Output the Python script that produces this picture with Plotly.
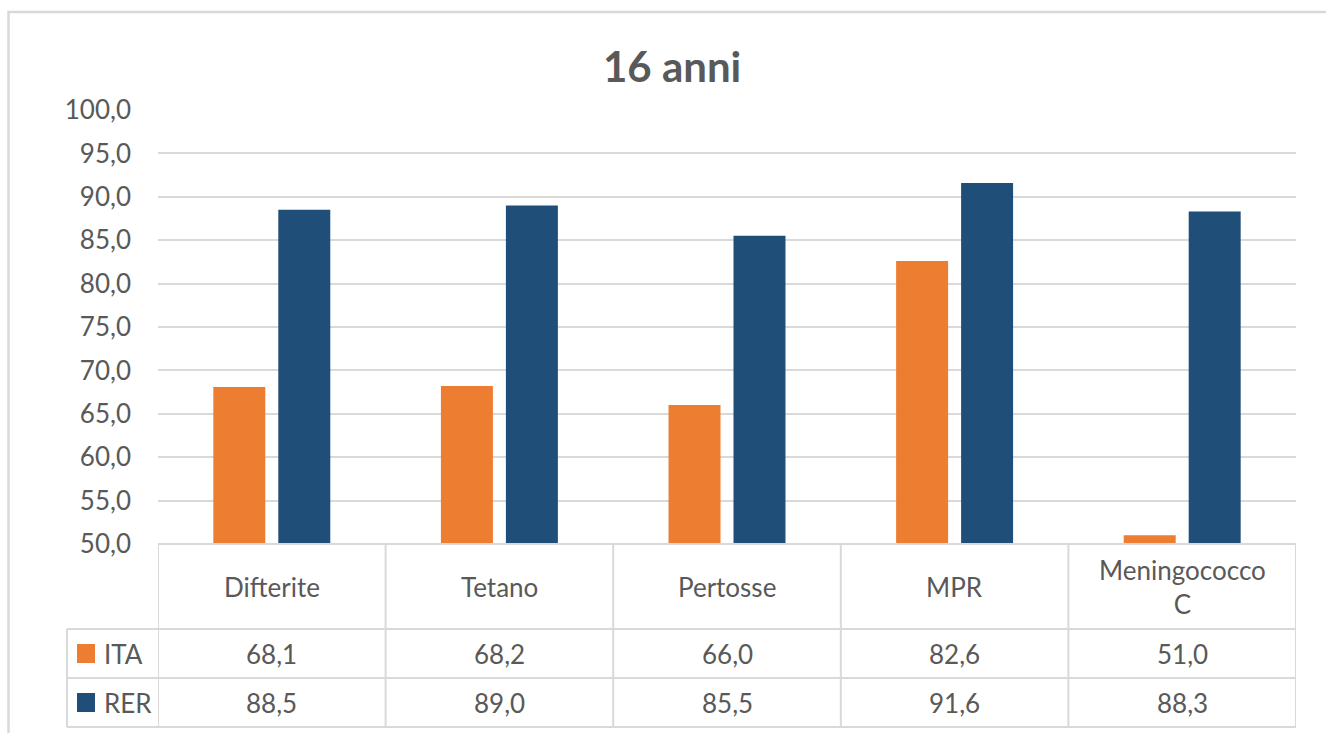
import plotly.graph_objects as go

# ---- data ----
categories = ["Difterite", "Tetano", "Pertosse", "MPR", "Meningococco C"]
category_labels = ["Difterite", "Tetano", "Pertosse", "MPR", "Meningococco<br>C"]
series_names = ["ITA", "RER"]
ita_values = [68.1, 68.2, 66.0, 82.6, 51.0]
rer_values = [88.5, 89.0, 85.5, 91.6, 88.3]
title_text = "16 anni"

# ---- styling ----
W, H = 1326, 733
PL, PR, PT, PB = 158, 1296, 110, 544   # plot area in pixels
ORANGE = "#ED7D31"
BLUE = "#1F4E79"
GRID = "#D9D9D9"
TXT = "#595959"
FONT = "Lato"

def xp(px):
    return (px - PL) / (PR - PL)

def yp(py):
    return (PB - py) / (PB - PT)

fig = go.Figure()
fig.add_trace(go.Bar(x=categories, y=ita_values, name=series_names[0],
                     marker=dict(color=ORANGE, line=dict(width=0)), base=None))
fig.add_trace(go.Bar(x=categories, y=rer_values, name=series_names[1],
                     marker=dict(color=BLUE, line=dict(width=0))))

shapes = []
line = dict(color=GRID, width=2)
# outer chart border
shapes.append(dict(type="rect", xref="paper", yref="paper",
                   x0=xp(8.5), x1=xp(1345), y0=yp(745), y1=yp(12),
                   line=dict(color=GRID, width=2.5), fillcolor="rgba(0,0,0,0)", layer="below"))
# table horizontal lines
ROW_TOP, ROW1, ROW2, ROW_BOT = 544, 629, 678, 727
LEG_L = 67
shapes.append(dict(type="line", xref="paper", yref="paper", x0=xp(PL), x1=xp(PR), y0=yp(ROW_TOP), y1=yp(ROW_TOP), line=line))
for ry in (ROW1, ROW2, ROW_BOT):
    shapes.append(dict(type="line", xref="paper", yref="paper", x0=xp(LEG_L), x1=xp(PR), y0=yp(ry), y1=yp(ry), line=line))
# vertical lines at category boundaries
for i in range(len(categories) + 1):
    shapes.append(dict(type="line", xref="x", yref="paper", x0=i - 0.5, x1=i - 0.5,
                       y0=yp(ROW_TOP), y1=yp(ROW_BOT), line=line))
shapes.append(dict(type="line", xref="paper", yref="paper", x0=xp(LEG_L), x1=xp(LEG_L),
                   y0=yp(ROW1), y1=yp(ROW_BOT), line=line))
# legend keys
row_centers = [(ROW1 + ROW2) / 2, (ROW2 + ROW_BOT) / 2]
for color, cy in zip([ORANGE, BLUE], row_centers):
    shapes.append(dict(type="rect", xref="paper", yref="paper",
                       x0=xp(77), x1=xp(95), y0=yp(cy + 9.5), y1=yp(cy - 9.5),
                       fillcolor=color, line=dict(width=0)))

annotations = []
# title
annotations.append(dict(text=f"<b>{title_text}</b>", xref="paper", yref="paper",
                        x=xp(672), y=yp(66), showarrow=False, xanchor="center", yanchor="middle",
                        font=dict(family=FONT, size=42, color=TXT)))
# header labels
for cat, lab in zip(categories, category_labels):
    annotations.append(dict(text=lab, xref="x", yref="paper", x=cat, y=yp(587),
                            showarrow=False, xanchor="center", yanchor="middle",
                            font=dict(family=FONT, size=26, color=TXT)))
# series rows
for name, vals, cy in zip(series_names, [ita_values, rer_values], row_centers):
    annotations.append(dict(text=name, xref="paper", yref="paper", x=xp(102), y=yp(cy),
                            showarrow=False, xanchor="left", yanchor="middle",
                            font=dict(family=FONT, size=26, color=TXT)))
    for cat, v in zip(categories, vals):
        annotations.append(dict(text=f"{v:.1f}".replace(".", ","), xref="x", yref="paper",
                                x=cat, y=yp(cy), showarrow=False, xanchor="center", yanchor="middle",
                                font=dict(family=FONT, size=26, color=TXT)))

fig.update_layout(
    width=W, height=H, autosize=False,
    margin=dict(l=PL, r=W - PR, t=PT, b=H - PB, pad=0),
    paper_bgcolor="white", plot_bgcolor="white",
    showlegend=False,
    barmode="group", bargap=0.429, bargroupgap=0.2,
    separators=",.",
    font=dict(family=FONT, size=26, color=TXT),
    xaxis=dict(type="category", range=[-0.5, 4.5], showticklabels=False,
               showgrid=False, zeroline=False, showline=False, ticks=""),
    yaxis=dict(range=[50, 100], dtick=5, tick0=50, tickformat=".1f",
               showgrid=True, gridcolor=GRID, gridwidth=2, zeroline=False,
               showline=False, ticks="", ticklabelstandoff=26,
               tickfont=dict(family=FONT, size=26, color=TXT)),
    shapes=shapes, annotations=annotations,
)

fig.write_html("out.html")
